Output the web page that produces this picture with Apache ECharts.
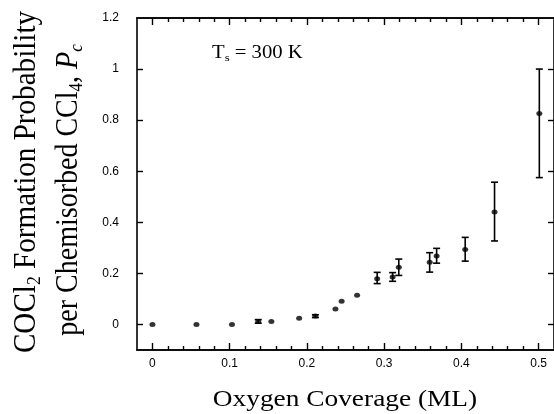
<!DOCTYPE html>
<html>
<head>
<meta charset="utf-8">
<script src="https://cdn.jsdelivr.net/npm/echarts@6/dist/echarts.min.js"></script>
<style>html,body{margin:0;padding:0;background:#fff;}#c{width:554px;height:414px;}</style>
</head>
<body>
<div id="c"></div>
<script>
// Data
const coverage = [0.000, 0.057, 0.103, 0.137, 0.154, 0.190, 0.211, 0.237, 0.245, 0.265, 0.291, 0.311, 0.319, 0.359, 0.368, 0.405, 0.443, 0.501];
const probability = [0.000, 0.000, 0.000, 0.012, 0.012, 0.024, 0.033, 0.061, 0.091, 0.114, 0.179, 0.186, 0.224, 0.244, 0.268, 0.294, 0.440, 0.826];
const errLow = [null, null, null, 0.005, null, null, 0.027, null, null, null, 0.160, 0.169, 0.192, 0.205, 0.240, 0.248, 0.327, 0.575];
const errHigh = [null, null, null, 0.019, null, null, 0.038, null, null, null, 0.204, 0.203, 0.256, 0.281, 0.298, 0.341, 0.557, 1.000];
const xTickLabels = [0, 0.1, 0.2, 0.3, 0.4, 0.5];
const xMinorTicks = [0.02,0.04,0.06,0.08,0.12,0.14,0.16,0.18,0.22,0.24,0.26,0.28,0.32,0.34,0.36,0.38,0.42,0.44,0.46,0.48];
const yTickLabels = [0, 0.2, 0.4, 0.6, 0.8, 1, 1.2];
const yTicks = [0, 0.2, 0.4, 0.6, 0.8, 1];

const chart = echarts.init(document.getElementById('c'), null, {renderer: 'canvas'});
const scatterData = coverage.map((x, i) => [x, probability[i]]);
const errData = [];
coverage.forEach((x, i) => { if (errLow[i] !== null) errData.push([x, errLow[i], errHigh[i]]); });

const lineStyleAxis = {color: '#000', width: 1.6};
const xMin = -0.02, xMax = 0.52, yMin = -0.1, yMax = 1.2;

function xAxisBase(pos, showLabel, ticks, len) {
  return {
    type: 'value', min: xMin, max: xMax, position: pos, gridIndex: 0,
    axisLine: {show: true, onZero: false, lineStyle: lineStyleAxis},
    axisTick: {show: true, inside: true, length: len, customValues: ticks, lineStyle: {color: '#000', width: 1.4}},
    axisLabel: showLabel ? {show: true, customValues: xTickLabels, margin: 8, color: '#000', fontSize: 12, fontFamily: 'Liberation Sans', formatter: v => String(v)} : {show: false},
    splitLine: {show: false}
  };
}

const serif = 'Liberation Serif';
chart.setOption({
  animation: false,
  backgroundColor: '#fff',
  grid: {left: 137, top: 18, width: 419, height: 332, containLabel: false},
  xAxis: [
    xAxisBase('bottom', true, xTickLabels, 7),
    xAxisBase('bottom', false, xMinorTicks, 4),
    xAxisBase('top', false, xTickLabels, 7),
    xAxisBase('top', false, xMinorTicks, 4)
  ],
  yAxis: [
    {
      type: 'value', min: yMin, max: yMax, position: 'left',
      axisLine: {show: true, onZero: false, lineStyle: lineStyleAxis},
      axisTick: {show: true, inside: true, length: 6, customValues: yTicks, lineStyle: {color: '#000', width: 1.4}},
      axisLabel: {show: true, customValues: yTickLabels, margin: 18, color: '#000', fontSize: 12, fontFamily: 'Liberation Sans', formatter: v => String(v)},
      splitLine: {show: false}
    },
    {
      type: 'value', min: yMin, max: yMax, position: 'right',
      axisLine: {show: true, onZero: false, lineStyle: lineStyleAxis},
      axisTick: {show: true, inside: true, length: 6, customValues: yTicks, lineStyle: {color: '#000', width: 1.4}},
      axisLabel: {show: false},
      splitLine: {show: false}
    }
  ],
  series: [
    {
      type: 'custom',
      xAxisIndex: 0, yAxisIndex: 0,
      data: errData,
      renderItem: function (params, api) {
        const x = api.value(0);
        const pLo = api.coord([x, api.value(1)]);
        const pHi = api.coord([x, api.value(2)]);
        const w = 3.5;
        const st = {stroke: '#000', lineWidth: 1.6};
        return {
          type: 'group',
          children: [
            {type: 'line', shape: {x1: pLo[0], y1: pLo[1], x2: pHi[0], y2: pHi[1]}, style: st},
            {type: 'line', shape: {x1: pLo[0] - w, y1: pLo[1], x2: pLo[0] + w, y2: pLo[1]}, style: st},
            {type: 'line', shape: {x1: pHi[0] - w, y1: pHi[1], x2: pHi[0] + w, y2: pHi[1]}, style: st}
          ]
        };
      },
      z: 3
    },
    {
      type: 'scatter',
      xAxisIndex: 0, yAxisIndex: 0,
      data: scatterData,
      symbol: 'circle',
      symbolSize: [6, 5],
      itemStyle: {color: '#000'},
      z: 4
    }
  ],
  graphic: [
    {
      type: 'text', x: 27, y: 182, rotation: Math.PI / 2, scaleX: 1.04, scaleY: 1.1,
      style: {
        text: '{n|COCl}{s|2}{n| Formation Probability}',
        align: 'center', verticalAlign: 'middle',
        rich: {
          n: {fontFamily: serif, fontSize: 28, fill: '#000', lineHeight: 32, verticalAlign: 'middle'},
          s: {fontFamily: serif, fontSize: 17, fill: '#000', lineHeight: 32, verticalAlign: 'bottom'}
        }
      }
    },
    {
      type: 'text', x: 69, y: 190, rotation: Math.PI / 2, scaleY: 1.1,
      style: {
        text: '{n|per Chemisorbed CCl}{s|4}{n|, }{i|P}{si|c}',
        align: 'center', verticalAlign: 'middle',
        rich: {
          n: {fontFamily: serif, fontSize: 28, fill: '#000', lineHeight: 32, verticalAlign: 'middle'},
          i: {fontFamily: serif, fontStyle: 'italic', fontSize: 28, fill: '#000', lineHeight: 32, verticalAlign: 'middle'},
          s: {fontFamily: serif, fontSize: 17, fill: '#000', lineHeight: 32, verticalAlign: 'bottom'},
          si: {fontFamily: serif, fontStyle: 'italic', fontSize: 17, fill: '#000', lineHeight: 32, verticalAlign: 'bottom'}
        }
      }
    },
    {
      type: 'text', x: 345, y: 400, scaleX: 1.14,
      style: {
        text: 'Oxygen Coverage (ML)',
        align: 'center', verticalAlign: 'middle',
        fontFamily: serif, fontSize: 24, fill: '#000'
      }
    },
    {
      type: 'text', x: 212, y: 53, scaleX: 1.15,
      style: {
        text: '{n|T}{s|s}{n| = 300 K}',
        align: 'left', verticalAlign: 'middle',
        rich: {
          n: {fontFamily: serif, fontSize: 18, fill: '#000', lineHeight: 21, verticalAlign: 'middle'},
          s: {fontFamily: serif, fontSize: 11, fill: '#000', lineHeight: 21, verticalAlign: 'bottom'}
        }
      }
    }
  ]
});
</script>
</body>
</html>
